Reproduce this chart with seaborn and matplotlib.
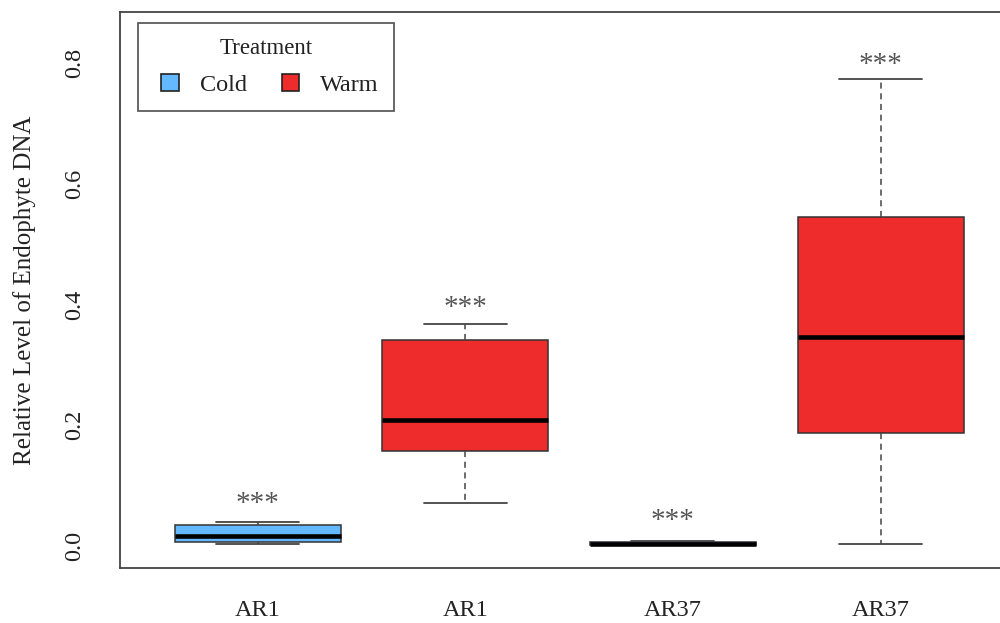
import numpy as np
import pandas as pd
import matplotlib
matplotlib.use("Agg")
import matplotlib.pyplot as plt
from matplotlib.patches import Patch, Rectangle
from matplotlib.legend_handler import HandlerPatch
import seaborn as sns

# ---- data (five-number summaries) ----
groups = ["AR1 Cold", "AR1 Warm", "AR37 Cold", "AR37 Warm"]
tick_labels = ["AR1", "AR1", "AR37", "AR37"]
treatment = ["Cold", "Warm", "Cold", "Warm"]
lower_whisker = [0.004, 0.071, 0.001, 0.003]
q1 = [0.007, 0.157, 0.002, 0.187]
median = [0.017, 0.208, 0.004, 0.346]
q3 = [0.035, 0.342, 0.006, 0.545]
upper_whisker = [0.040, 0.367, 0.009, 0.773]
signif = ["***", "***", "***", "***"]
signif_y = [0.058, 0.383, 0.030, 0.785]

colors = {"Cold": "#63B8FF", "Warm": "#EE2C2C"}

rows = []
for g, t, a, b, c, d, e in zip(groups, treatment, lower_whisker, q1, median, q3, upper_whisker):
    for v in (a, b, c, d, e):
        rows.append({"group": g, "Treatment": t, "value": v})
df = pd.DataFrame(rows)

sns.set_theme(style="white")
plt.rcParams["font.family"] = ["Liberation Serif", "DejaVu Serif"]
plt.rcParams["axes.edgecolor"] = "#444444"

fig = plt.figure(figsize=(10, 6.23), dpi=100)
W, H = 1000, 623
left, right, top, bottom = 120, 1017.6, 12, 568
ax = fig.add_axes([left / W, 1 - bottom / H, (right - left) / W, (bottom - top) / H])

sns.boxplot(
    data=df, x="group", y="value", hue="Treatment", order=groups,
    palette=colors, saturation=1, dodge=False, width=0.8, whis=(0, 100),
    showfliers=False, linecolor="#333333", linewidth=1.1, legend=False, ax=ax,
    medianprops=dict(color="black", linewidth=3.3),
    whiskerprops=dict(color="#444444", linestyle=(0, (4, 3)), linewidth=1.1),
    capprops=dict(color="#444444", linewidth=1.3),
    boxprops=dict(edgecolor="#333333", linewidth=1.1),
)

for i, (s, y) in enumerate(zip(signif, signif_y)):
    ax.text(i, y, s, ha="center", va="baseline", fontsize=21, color="#555555")

ax.set_xlim(-0.663, 3.66)
ax.set_ylim(-0.0364, 0.8845)
ax.set_yticks([0.0, 0.2, 0.4, 0.6, 0.8])
ax.set_yticklabels(["0.0", "0.2", "0.4", "0.6", "0.8"])
ax.set_xticks(range(4))
ax.set_xticklabels(tick_labels)
for sp in ax.spines.values():
    sp.set_color("#444444")
    sp.set_linewidth(1.3)
ax.tick_params(axis="both", which="major", length=10, width=1.3, color="#444444",
               labelsize=17.5, labelcolor="#222222", direction="out")
ax.tick_params(axis="y", pad=23)
ax.tick_params(axis="x", pad=13)
plt.setp(ax.get_yticklabels(), rotation=90, va="center", ha="center")
ax.set_xlabel("")
ax.set_ylabel("Relative Level of Endophyte DNA", fontsize=18, color="#222222")
ax.yaxis.set_label_coords(-0.094, 0.5)


def square_patch(legend, orig_handle, xdescent, ydescent, width, height, fontsize):
    return Rectangle((-xdescent + width - height, -ydescent), height, height)


handles = [Patch(facecolor=colors["Cold"], edgecolor="#222222", linewidth=1.2, label="Cold"),
           Patch(facecolor=colors["Warm"], edgecolor="#222222", linewidth=1.2, label="Warm")]
leg = ax.legend(handles=handles, title="Treatment", ncol=2, loc="upper left",
                bbox_to_anchor=(138 / W, 1 - 23 / H), bbox_transform=fig.transFigure,
                borderaxespad=0, fontsize=17.5, title_fontsize=16.5, frameon=True,
                fancybox=False, handlelength=1.07, handleheight=0.74,
                handletextpad=0.85, columnspacing=1.1, borderpad=0.62, labelspacing=0.6,
                handler_map={Patch: HandlerPatch(patch_func=square_patch)})
leg.get_frame().set_edgecolor("#333333")
leg.get_frame().set_linewidth(1.3)
for t in leg.get_texts():
    t.set_color("#222222")
leg.get_title().set_color("#222222")

fig.savefig("out.png", dpi=100)
